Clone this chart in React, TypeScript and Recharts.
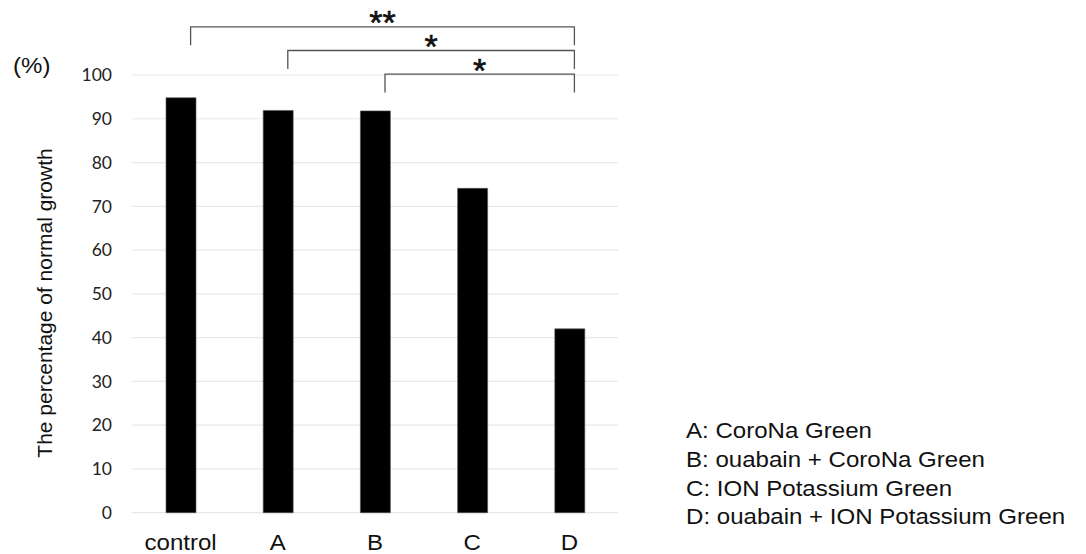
import React from "react";
import { BarChart, Bar, XAxis, YAxis, CartesianGrid, ReferenceLine } from "recharts";

const categories = ["control", "A", "B", "C", "D"];
const values = [94.8, 91.9, 91.8, 74.1, 42.0];
const yTicks = [0, 10, 20, 30, 40, 50, 60, 70, 80, 90, 100];
const brackets = [
  { from: "control", to: "D", level: 111.0, label: "**" },
  { from: "A", to: "D", level: 105.6, label: "*" },
  { from: "B", to: "D", level: 100.2, label: "*" },
];
const legendLines = [
  "A: CoroNa Green",
  "B: ouabain + CoroNa Green",
  "C: ION Potassium Green",
  "D: ouabain + ION Potassium Green",
];
const yAxisTitle = "The percentage of normal growth";
const unitLabel = "(%)";

const data = categories.map((c, i) => ({ name: c, value: values[i] }));

const SX = 1.12;
const ARIAL = "'Liberation Sans', Arial, sans-serif";

const XTick = (props: any) => {
  const { x, y, payload } = props;
  return (
    <g transform={`translate(${x},${y + 37})`}>
      <text
        transform={`scale(${SX},1)`}
        textAnchor="middle"
        fontFamily={ARIAL}
        fontSize={21.5}
        fill="#111"
      >
        {payload.value}
      </text>
    </g>
  );
};

const makeBracket = (label: string) => (p: any) => {
  const { x1, y1, x2 } = p;
  const drop = 18.5;
  const lx = x1 + 10;
  const rx = x2 + 5;
  const mid = (lx + rx) / 2;
  return (
    <g>
      <path
        d={`M${lx},${y1 + drop}V${y1}H${rx}V${y1 + drop}`}
        fill="none"
        stroke="#555"
        strokeWidth={1.3}
      />
      <text
        x={mid}
        y={y1 + 7.5}
        textAnchor="middle"
        fontFamily={ARIAL}
        fontSize={34}
        fill="#111"
        stroke="#111"
        strokeWidth={0.6}
      >
        {label}
      </text>
    </g>
  );
};

export default function App() {
  return (
    <div style={{ position: "absolute", left: 0, top: 0, width: 1086, height: 554, background: "#fff" }}>
      <BarChart
        width={1086}
        height={554}
        data={data}
        margin={{ top: 75, right: 468, bottom: 11.3, left: 72 }}
        barCategoryGap={0}
      >
        <CartesianGrid vertical={false} stroke="#e8e8e8" strokeWidth={1.2} />
        <XAxis
          dataKey="name"
          height={30}
          axisLine={false}
          tickLine={false}
          tickSize={0}
          tickMargin={0}
          interval={0}
          tick={<XTick />}
        />
        <YAxis
          width={60}
          domain={[0, 100]}
          ticks={yTicks}
          axisLine={false}
          tickLine={false}
          tickSize={0}
          tickMargin={20}
          tick={{ fontFamily: "Lato, 'Open Sans', sans-serif", fontSize: 17.5, fill: "#222" }}
        />
        <Bar dataKey="value" fill="#000" stroke="#555" strokeWidth={0.6} barSize={30} isAnimationActive={false} />
        {brackets.map((b, i) => (
          <ReferenceLine
            key={i}
            segment={[
              { x: b.from, y: b.level },
              { x: b.to, y: b.level },
            ]}
            ifOverflow="visible"
            shape={makeBracket(b.label)}
          />
        ))}
      </BarChart>
      <svg
        width={1086}
        height={554}
        style={{ position: "absolute", left: 0, top: 0, pointerEvents: "none" }}
      >
        <text
          transform={`translate(13,73) scale(${SX},1)`}
          fontFamily={ARIAL}
          fontSize={21.5}
          fill="#111"
        >
          {unitLabel}
        </text>
        <text
          transform={`translate(52,303) rotate(-90)`}
          textAnchor="middle"
          fontFamily={ARIAL}
          fontSize={21}
          fill="#111"
        >
          {yAxisTitle}
        </text>
        {legendLines.map((t, i) => (
          <text
            key={i}
            transform={`translate(686,${438.3 + i * 28.67}) scale(${SX},1)`}
            fontFamily={ARIAL}
            fontSize={21.5}
            fill="#111"
          >
            {t}
          </text>
        ))}
      </svg>
    </div>
  );
}
